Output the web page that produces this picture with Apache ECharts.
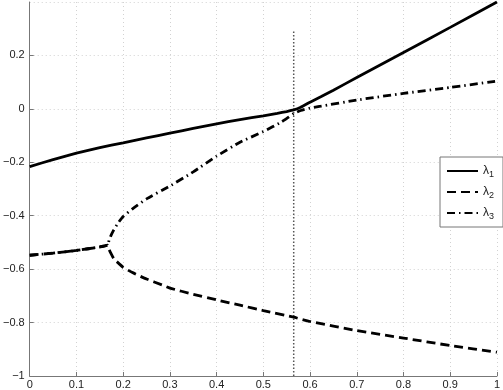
<!DOCTYPE html>
<html><head><meta charset="utf-8">
<script src="https://cdn.jsdelivr.net/npm/echarts@6/dist/echarts.min.js"></script>
<style>html,body{margin:0;padding:0;background:#fff}#c{width:503px;height:390px}</style>
</head><body><div id="c"></div>
<script>
const xTicks = [0,0.1,0.2,0.3,0.4,0.5,0.6,0.7,0.8,0.9,1];
const yTicks = [-1,-0.8,-0.6,-0.4,-0.2,0,0.2];

const lambda1X = [0,0.05,0.1,0.15,0.2,0.25,0.3,0.35,0.4,0.45,0.5,0.53,0.55,0.565,0.58,0.6,0.623,0.65,0.7,0.8,0.9,1];
const lambda1Y = [-0.216,-0.19,-0.166,-0.145,-0.127,-0.109,-0.091,-0.073,-0.056,-0.04,-0.026,-0.017,-0.01,-0.004,0.006,0.025,0.045,0.07,0.117,0.211,0.305,0.40];

const lambda2X = [0,0.05,0.1,0.15,0.167,0.17,0.175,0.18,0.2,0.22,0.25,0.283,0.3,0.35,0.4,0.45,0.5,0.565,0.6,0.7,0.8,0.9,1];
const lambda2Y = [-0.548,-0.54,-0.53,-0.517,-0.51,-0.527,-0.545,-0.561,-0.593,-0.613,-0.637,-0.659,-0.671,-0.694,-0.715,-0.735,-0.755,-0.78,-0.796,-0.83,-0.858,-0.886,-0.911];

const lambda3X = [0,0.05,0.1,0.15,0.167,0.17,0.175,0.18,0.19,0.2,0.22,0.25,0.3,0.35,0.4,0.45,0.5,0.539,0.565,0.58,0.6,0.623,0.7,0.8,0.9,1];
const lambda3Y = [-0.548,-0.54,-0.53,-0.517,-0.51,-0.49,-0.47,-0.453,-0.425,-0.403,-0.374,-0.337,-0.289,-0.236,-0.177,-0.125,-0.085,-0.049,-0.018,-0.006,0.003,0.01,0.033,0.058,0.08,0.104];

const markerX = [0.565,0.565];
const markerY = [-1,0.295];

const names = ['λ1','λ2','λ3'];
const subs = ['1','2','3'];

const zip = (xs, ys) => xs.map((x,i)=>[x, ys[i]]);
const fmt = v => { const s = String(+v.toFixed(2)); return s.replace('-', '\u2212'); };

const chart = echarts.init(document.getElementById('c'), null, {renderer:'canvas'});
chart.setOption({
  animation:false,
  backgroundColor:'#fff',
  grid:{left:24, right:4, top:2, bottom:14, containLabel:false},
  xAxis:{
    type:'value', min:0, max:1, interval:0.1,
    axisLine:{show:true, onZero:false, lineStyle:{color:'#777', width:1}},
    axisTick:{show:true, inside:true, length:4, lineStyle:{color:'#777'}},
    axisLabel:{color:'#222', fontSize:11, fontFamily:'Liberation Sans, Arial, sans-serif', margin:3, formatter:fmt},
    splitLine:{show:true, lineStyle:{color:'#d2d2d2', type:[1,3], width:1}}
  },
  yAxis:{
    type:'value', min:-1, max:0.4, interval:0.2,
    axisLine:{show:true, onZero:false, lineStyle:{color:'#777', width:1}},
    axisTick:{show:true, inside:true, length:4, lineStyle:{color:'#777'}},
    axisLabel:{color:'#222', fontSize:11, fontFamily:'Liberation Sans, Arial, sans-serif', margin:5, formatter:fmt, showMaxLabel:false},
    splitLine:{show:true, lineStyle:{color:'#d2d2d2', type:[1,3], width:1}}
  },
  legend:{
    data:names,
    orient:'vertical',
    left:440, top:157,
    padding:[8,9,6,6],
    itemWidth:31, itemHeight:12, itemGap:7,
    borderColor:'#777', borderWidth:1, backgroundColor:'#fff',
    itemStyle:{opacity:0},
    formatter: n => '{a|λ}{s|' + subs[names.indexOf(n)] + '}',
    textStyle:{
      color:'#222', fontFamily:'Liberation Sans, Arial, sans-serif',
      rich:{a:{fontSize:12, color:'#222'}, s:{fontSize:9, color:'#222', padding:[7,0,0,0]}}
    }
  },
  series:[
    {name:names[0], type:'line', symbol:'none', smooth:0.15, data:zip(lambda1X,lambda1Y), lineStyle:{color:'#000', width:2.8}, itemStyle:{color:'#000'}, z:5},
    {name:names[1], type:'line', symbol:'none', smooth:0.15, data:zip(lambda2X,lambda2Y), lineStyle:{color:'#000', width:2.8, type:[9,5]}, itemStyle:{color:'#000'}, z:4},
    {name:names[2], type:'line', symbol:'none', smooth:0.15, data:zip(lambda3X,lambda3Y), lineStyle:{color:'#000', width:2.8, type:[8,4,1.5,4]}, itemStyle:{color:'#000'}, z:4},
    {name:'marker', type:'line', symbol:'none', data:zip(markerX,markerY), lineStyle:{color:'#555', width:1.5, type:[1.5,2]}, z:3, silent:true}
  ]
});
</script></body></html>
